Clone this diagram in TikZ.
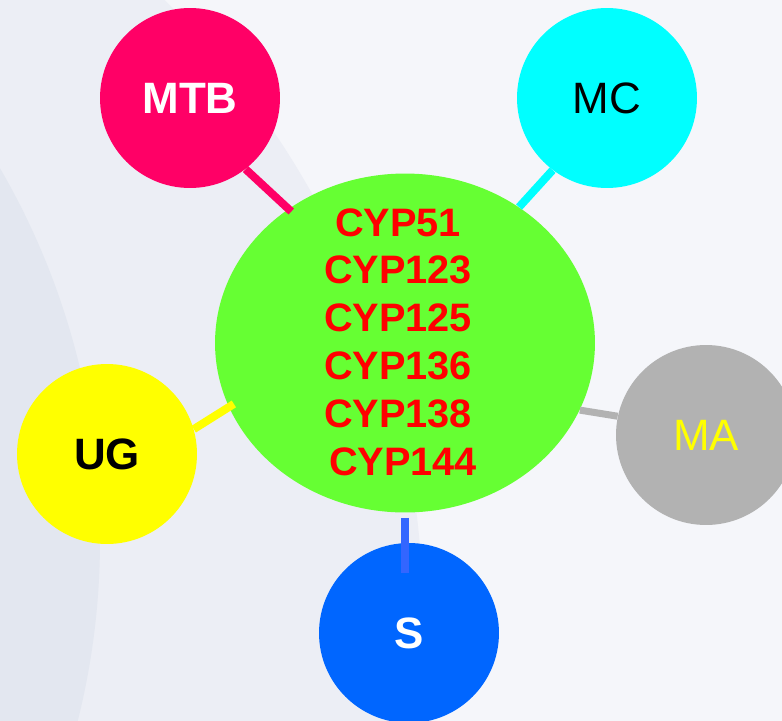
\documentclass[tikz,border=0pt]{standalone}
\usepackage{xcolor}
\usepackage{fontspec}
\setmainfont{Liberation Sans}
\usetikzlibrary{shapes,positioning,calc}

\definecolor{bgright}{HTML}{F5F6FA}
\definecolor{bgmid}{HTML}{ECEEF5}
\definecolor{bgleft}{HTML}{E3E7F0}
\definecolor{mtbred}{HTML}{FF0066}
\definecolor{mccyan}{HTML}{00FFFF}
\definecolor{magray}{HTML}{B2B2B2}
\definecolor{ugyellow}{HTML}{FFFF00}
\definecolor{sblue}{HTML}{0066FF}
\definecolor{slink}{HTML}{3366FF}
\definecolor{cypgreen}{HTML}{66FF33}

\begin{document}
\begin{tikzpicture}[
    x=0.02cm, y=-0.02cm,
    every node/.style={inner sep=0pt},
    hub/.style={ellipse, fill=cypgreen, minimum width=7.6cm, minimum height=6.78cm},
    satellite/.style={circle, minimum size=3.6cm, font=\fontsize{25}{30}\selectfont},
    link/.style={line width=0.16cm}
]
    % background
    \useasboundingbox (0,0) rectangle (782,721);
    \clip (0,0) rectangle (782,721);
    \fill[bgright] (0,0) rectangle (782,721);
    \fill[bgmid] (-450,620) circle (873*0.02cm);
    \fill[bgleft] (-640,540) circle (740*0.02cm);

    \node [hub] (cyp) at (405,343) {};
    \node [text=red, align=center, font=\bfseries\fontsize{22.6}{27.2}\selectfont] (genes) at (398,342)
        {CYP51\\CYP123\\CYP125\\CYP136\\CYP138\\\hspace{0.2cm}CYP144};

    \node [satellite, fill=mtbred, text=white, font=\bfseries\fontsize{25}{30}\selectfont] (mtb) at (190,98) {MTB};
    \node [satellite, fill=mccyan, text=black] (mc) at (607,98) {MC};
    \node [satellite, fill=magray, text=ugyellow] (ma) at (706,435) {MA};
    \node [satellite, fill=sblue, text=white, font=\bfseries\fontsize{25}{30}\selectfont] (s) at (409,633) {S};
    \node [satellite, fill=ugyellow, text=black, font=\bfseries\fontsize{25}{30}\selectfont] (ug) at (107,454) {UG};

    \draw [link, mtbred, shorten >=-0.08cm] (mtb.-52.6) -- (cyp.131.5);
    \draw [link, mccyan] (mc.233.4) -- (cyp.50.9);
    \draw [link, magray, line width=0.14cm] (ma.168.4) -- (cyp.-21);
    \draw [link, ugyellow, shorten >=-0.12cm] (ug.16.8) -- (cyp.200);
    \draw [link, slink, shorten <=0.1cm, shorten >=-0.6cm] (cyp.south) -- (cyp.south |- s.north);
\end{tikzpicture}
\end{document}
